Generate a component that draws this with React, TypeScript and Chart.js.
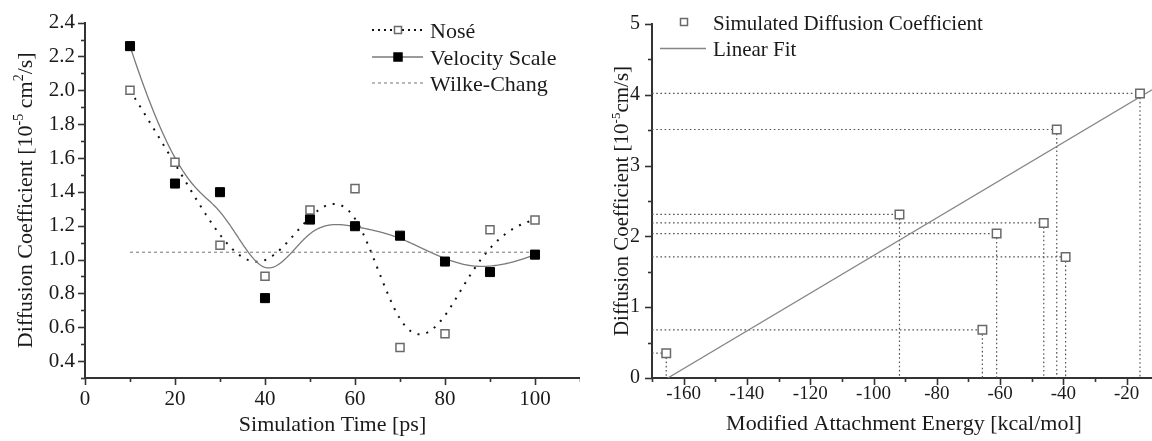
import React, { useEffect, useRef } from 'react';
import { Chart, registerables } from 'chart.js';
Chart.register(...registerables);

// ---------- Left panel data ----------
const timePs = [10, 20, 30, 40, 50, 60, 70, 80, 90, 100];
const noseValues = [2.0, 1.575, 1.084, 0.901, 1.293, 1.419, 0.48, 0.562, 1.176, 1.234];
const velocityValues = [2.261, 1.449, 1.398, 0.772, 1.236, 1.197, 1.141, 0.988, 0.926, 1.029];
const wilkeChangX = [10, 100];
const wilkeChangValue = 1.043;
const leftXMajor = [0, 20, 40, 60, 80, 100];
const leftXMinor = [10, 30, 50, 70, 90, 110];
const leftYMajor = [0.4, 0.6, 0.8, 1.0, 1.2, 1.4, 1.6, 1.8, 2.0, 2.2, 2.4];
const leftYMinor = [0.3, 0.5, 0.7, 0.9, 1.1, 1.3, 1.5, 1.7, 1.9, 2.1, 2.3];
const leftLegend = ['Nosé', 'Velocity Scale', 'Wilke-Chang'];

// ---------- Right panel data ----------
const attachmentEnergy = [-165.5, -91.8, -65.6, -61.1, -46.2, -42.1, -39.3, -15.8];
const simDiffusion = [0.35, 2.31, 0.68, 2.04, 2.19, 3.51, 1.71, 4.02];
const fitX = [-165, -12];
const fitY = [0, 4.07];
const rightXMajor = [-160, -140, -120, -100, -80, -60, -40, -20];
const rightXMinor = [-170, -150, -130, -110, -90, -70, -50, -30];
const rightYMajor = [0, 1, 2, 3, 4, 5];
const rightYMinor = [0.5, 1.5, 2.5, 3.5, 4.5];
const rightLegend = ['Simulated Diffusion Coefficient', 'Linear Fit'];

const FONT = '"Liberation Serif", "Times New Roman", serif';
const TEXT = '#1a1a1a';
const AXIS = '#333333';

// clamped cubic B-spline (Origin-style "B-Spline" connection) evaluated at draw time
function bspline(xs: number[], ys: number[], samples: number): [number, number][] {
  const n = xs.length, p = 3;
  const knots: number[] = [];
  for (let i = 0; i <= p; i++) knots.push(0);
  for (let i = 1; i <= n - p - 1; i++) knots.push(i);
  for (let i = 0; i <= p; i++) knots.push(n - p);
  const tMax = n - p;
  const out: [number, number][] = [];
  for (let s = 0; s <= samples; s++) {
    const t = (s / samples) * tMax;
    let k = p;
    while (k < n - 1 && t >= knots[k + 1]) k++;
    const dx: number[] = [], dy: number[] = [];
    for (let j = 0; j <= p; j++) { dx.push(xs[j + k - p]); dy.push(ys[j + k - p]); }
    for (let r = 1; r <= p; r++) {
      for (let j = p; j >= r; j--) {
        const den = knots[j + 1 + k - r] - knots[j + k - p];
        const a = den === 0 ? 0 : (t - knots[j + k - p]) / den;
        dx[j] = (1 - a) * dx[j - 1] + a * dx[j];
        dy[j] = (1 - a) * dy[j - 1] + a * dy[j];
      }
    }
    out.push([dx[p], dy[p]]);
  }
  return out;
}

function drawSpline(chart: any, xs: number[], ys: number[], color: string, width: number, dash: number[]) {
  const { ctx, chartArea, scales } = chart;
  const pts = bspline(xs, ys, 500);
  ctx.save();
  ctx.beginPath();
  ctx.rect(chartArea.left, chartArea.top, chartArea.right - chartArea.left, chartArea.bottom - chartArea.top);
  ctx.clip();
  ctx.beginPath();
  pts.forEach(([vx, vy], i) => {
    const px = scales.x.getPixelForValue(vx);
    const py = scales.y.getPixelForValue(vy);
    if (i === 0) ctx.moveTo(px, py); else ctx.lineTo(px, py);
  });
  ctx.strokeStyle = color;
  ctx.lineWidth = width;
  ctx.setLineDash(dash);
  ctx.lineCap = 'butt';
  ctx.stroke();
  ctx.restore();
}

function drawTickMarks(chart: any, xMajor: number[], xMinor: number[], yMajor: number[], yMinor: number[]) {
  const { ctx, chartArea, scales } = chart;
  ctx.save();
  ctx.strokeStyle = AXIS;
  ctx.lineWidth = 1.6;
  ctx.setLineDash([]);
  const xt = (vals: number[], len: number) => vals.forEach(v => {
    const px = Math.round(scales.x.getPixelForValue(v)) + 0.5;
    ctx.beginPath(); ctx.moveTo(px, chartArea.bottom); ctx.lineTo(px, chartArea.bottom + len); ctx.stroke();
  });
  const yt = (vals: number[], len: number) => vals.forEach(v => {
    const py = Math.round(scales.y.getPixelForValue(v)) + 0.5;
    ctx.beginPath(); ctx.moveTo(chartArea.left, py); ctx.lineTo(chartArea.left - len, py); ctx.stroke();
  });
  xt(xMajor, 7); xt(xMinor, 4); yt(yMajor, 7); yt(yMinor, 4);
  ctx.restore();
}

type Seg = { t: string; sup?: boolean };
function drawRich(ctx: CanvasRenderingContext2D, segs: Seg[], size: number, cx: number, baseY: number, rotate: boolean) {
  const norm = `${size}px ${FONT}`;
  const sup = `${Math.round(size * 0.62)}px ${FONT}`;
  let total = 0;
  const widths = segs.map(s => { ctx.font = s.sup ? sup : norm; const w = ctx.measureText(s.t).width; total += w; return w; });
  ctx.save();
  ctx.translate(cx, baseY);
  if (rotate) ctx.rotate(-Math.PI / 2);
  ctx.fillStyle = TEXT;
  ctx.textBaseline = 'alphabetic';
  ctx.textAlign = 'left';
  let x = -total / 2;
  segs.forEach((s, i) => {
    ctx.font = s.sup ? sup : norm;
    ctx.fillText(s.t, x, s.sup ? -size * 0.4 : 0);
    x += widths[i];
  });
  ctx.restore();
}

function markerSquare(ctx: CanvasRenderingContext2D, cx: number, cy: number, side: number, filled: boolean, stroke: string) {
  ctx.save();
  ctx.setLineDash([]);
  ctx.lineWidth = 1.5;
  ctx.fillStyle = filled ? '#000' : '#fff';
  ctx.strokeStyle = stroke;
  ctx.fillRect(cx - side / 2, cy - side / 2, side, side);
  ctx.strokeRect(cx - side / 2, cy - side / 2, side, side);
  ctx.restore();
}

function axisCfg(min: number, max: number, major: number[], fmt: (v: number) => string, size: number, padding: number, fit: (s: any) => void) {
  return {
    type: 'linear',
    min, max,
    afterBuildTicks: (s: any) => { s.ticks = major.map(v => ({ value: v })); },
    afterFit: (s: any) => { fit(s); },
    ticks: { autoSkip: false, maxRotation: 0, padding, color: TEXT, font: { family: FONT, size }, callback: (v: any) => fmt(Number(v)) },
    grid: { display: false, drawTicks: false, tickLength: 0 },
    border: { display: true, color: AXIS, width: 2 },
  };
}

// make the plot area land exactly on the target box
function pinArea(chart: any, L: number, T: number, R: number, B: number) {
  for (let i = 0; i < 3; i++) {
    const ca = chart.chartArea;
    const p = chart.options.layout.padding;
    const dl = L - ca.left, dt = T - ca.top, dr = ca.right - R, db = ca.bottom - B;
    if (Math.abs(dl) < 0.3 && Math.abs(dt) < 0.3 && Math.abs(dr) < 0.3 && Math.abs(db) < 0.3) break;
    p.left += dl; p.top += dt; p.right += dr; p.bottom += db;
    chart.update();
  }
}

function LeftPanel() {
  const ref = useRef<HTMLCanvasElement>(null);
  useEffect(() => {
    const chart = new Chart(ref.current as HTMLCanvasElement, {
      type: 'scatter',
      data: {
        datasets: [
          {
            label: leftLegend[1], data: timePs.map((x, i) => ({ x, y: velocityValues[i] })),
            pointStyle: 'rect', pointRadius: 6.4, backgroundColor: '#000', borderColor: '#000', borderWidth: 1, showLine: false,
          },
          {
            label: leftLegend[0], data: timePs.map((x, i) => ({ x, y: noseValues[i] })),
            pointStyle: 'rect', pointRadius: 5.7, backgroundColor: '#fff', borderColor: '#6a6a6a', borderWidth: 1.5, showLine: false,
          },
          {
            label: leftLegend[2], type: 'line', data: wilkeChangX.map(x => ({ x, y: wilkeChangValue })),
            borderColor: '#8c8c8c', borderWidth: 1.2, borderDash: [3, 3], pointRadius: 0, showLine: true,
          },
        ] as any,
      },
      options: {
        responsive: false,
        animation: false,
        layout: { autoPadding: false, padding: { top: 20, left: 0, right: 0, bottom: 0 } },
        plugins: { legend: { display: false }, tooltip: { enabled: false } },
        scales: {
          x: axisCfg(0, 110, leftXMajor, v => String(v), 21, 9, (s: any) => { s.height = 63; }),
          y: axisCfg(0.3, 2.4, leftYMajor, v => v.toFixed(1), 21, 10, (s: any) => { s.width = 85; }),
        } as any,
      },
      plugins: [{
        id: 'leftDecor',
        beforeDatasetsDraw(c: any) {
          drawSpline(c, timePs, noseValues, '#111', 2, [2, 7]);
          drawSpline(c, timePs, velocityValues, '#7a7a7a', 1.3, []);
        },
        afterDraw(c: any) {
          const ctx = c.ctx as CanvasRenderingContext2D;
          const ca = c.chartArea;
          drawTickMarks(c, leftXMajor, leftXMinor, leftYMajor, leftYMinor);
          drawRich(ctx, [{ t: 'Simulation Time [ps]' }], 22, (ca.left + ca.right) / 2, 431, false);
          drawRich(ctx, [{ t: 'Diffusion Coefficient [10' }, { t: '-5', sup: true }, { t: ' cm' }, { t: '2', sup: true }, { t: '/s]' }], 22, 32, (ca.top + ca.bottom) / 2, true);
          const lx0 = 372, lx1 = 423, mx = 398, tx = 430;
          const rows = [30, 57, 83];
          ctx.save();
          ctx.beginPath(); ctx.moveTo(lx0, rows[0]); ctx.lineTo(lx1, rows[0]);
          ctx.strokeStyle = '#111'; ctx.lineWidth = 2; ctx.setLineDash([2, 4]); ctx.stroke();
          ctx.beginPath(); ctx.moveTo(lx0, rows[1]); ctx.lineTo(lx1, rows[1]);
          ctx.strokeStyle = '#7a7a7a'; ctx.lineWidth = 1.3; ctx.setLineDash([]); ctx.stroke();
          ctx.beginPath(); ctx.moveTo(lx0, rows[2]); ctx.lineTo(lx1, rows[2]);
          ctx.strokeStyle = '#8c8c8c'; ctx.lineWidth = 1.2; ctx.setLineDash([3, 3]); ctx.stroke();
          ctx.restore();
          markerSquare(ctx, mx, rows[0], 7, false, '#6a6a6a');
          markerSquare(ctx, mx, rows[1], 8, true, '#000');
          ctx.save();
          ctx.font = `22px ${FONT}`; ctx.fillStyle = TEXT; ctx.textBaseline = 'alphabetic'; ctx.textAlign = 'left';
          leftLegend.forEach((t, i) => ctx.fillText(t, tx, rows[i] + 7.5));
          ctx.restore();
        },
      }],
    } as any);
    pinArea(chart, 85, 20, 580, 378);
    return () => chart.destroy();
  }, []);
  return <canvas ref={ref} width={580} height={441} style={{ position: 'absolute', left: 0, top: 0, width: 580, height: 441 }} />;
}

function RightPanel() {
  const ref = useRef<HTMLCanvasElement>(null);
  useEffect(() => {
    const chart = new Chart(ref.current as HTMLCanvasElement, {
      type: 'scatter',
      data: {
        datasets: [
          {
            label: rightLegend[0], data: attachmentEnergy.map((x, i) => ({ x, y: simDiffusion[i] })),
            pointStyle: 'rect', pointRadius: 6, backgroundColor: '#fff', borderColor: '#6a6a6a', borderWidth: 1.5, showLine: false,
          },
          {
            label: rightLegend[1], type: 'line', data: fitX.map((x, i) => ({ x, y: fitY[i] })),
            borderColor: '#858585', borderWidth: 1.3, pointRadius: 0, showLine: true,
          },
        ] as any,
      },
      options: {
        responsive: false,
        animation: false,
        layout: { autoPadding: false, padding: { top: 15, left: 0, right: 0, bottom: 0 } },
        plugins: { legend: { display: false }, tooltip: { enabled: false } },
        scales: {
          x: axisCfg(-170, -12, rightXMajor, v => String(v), 19, 5, (s: any) => { s.height = 63; }),
          y: axisCfg(0, 5, rightYMajor, v => String(v), 20, 12, (s: any) => { s.width = 72; }),
        } as any,
      },
      plugins: [{
        id: 'rightDecor',
        beforeDatasetsDraw(c: any) {
          const ctx = c.ctx as CanvasRenderingContext2D;
          const { chartArea: ca, scales } = c;
          ctx.save();
          ctx.strokeStyle = '#555';
          ctx.lineWidth = 1.2;
          ctx.setLineDash([1.6, 2.6]);
          attachmentEnergy.forEach((e, i) => {
            const px = scales.x.getPixelForValue(e);
            const py = scales.y.getPixelForValue(simDiffusion[i]);
            ctx.beginPath(); ctx.moveTo(ca.left, py); ctx.lineTo(px, py); ctx.stroke();
            ctx.beginPath(); ctx.moveTo(px, py); ctx.lineTo(px, ca.bottom); ctx.stroke();
          });
          ctx.restore();
        },
        afterDraw(c: any) {
          const ctx = c.ctx as CanvasRenderingContext2D;
          const ca = c.chartArea;
          drawTickMarks(c, rightXMajor, rightXMinor, rightYMajor, rightYMinor);
          drawRich(ctx, [{ t: 'Modified Attachment Energy [kcal/mol]' }], 22, 904 - 580, 430, false);
          drawRich(ctx, [{ t: 'Diffusion Coefficient [10' }, { t: '-5', sup: true }, { t: 'cm/s]' }], 21, 628 - 580, (ca.top + ca.bottom) / 2, true);
          markerSquare(ctx, 684 - 580, 22, 7, false, '#6a6a6a');
          ctx.save();
          ctx.beginPath(); ctx.moveTo(660 - 580, 48.5); ctx.lineTo(706 - 580, 48.5);
          ctx.strokeStyle = '#858585'; ctx.lineWidth = 1.3; ctx.stroke();
          ctx.font = `21px ${FONT}`; ctx.fillStyle = TEXT; ctx.textBaseline = 'alphabetic'; ctx.textAlign = 'left';
          ctx.fillText(rightLegend[0], 713 - 580, 30);
          ctx.fillText(rightLegend[1], 713 - 580, 56);
          ctx.restore();
        },
      }],
    } as any);
    pinArea(chart, 72, 15, 572, 378);
    return () => chart.destroy();
  }, []);
  return <canvas ref={ref} width={572} height={441} style={{ position: 'absolute', left: 580, top: 0, width: 572, height: 441 }} />;
}

export default function App() {
  return (
    <div style={{ position: 'absolute', left: 0, top: 0, width: 1152, height: 441, background: '#fff', overflow: 'hidden' }}>
      <LeftPanel />
      <RightPanel />
    </div>
  );
}
